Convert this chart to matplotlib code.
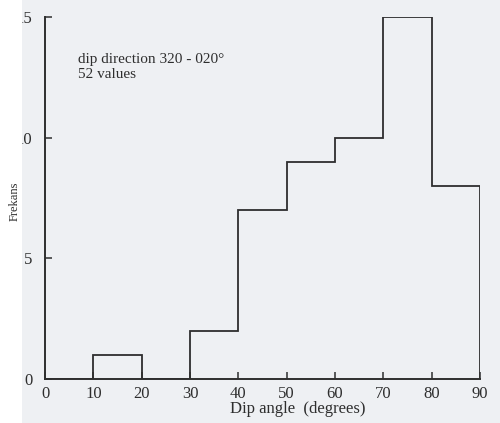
import matplotlib
matplotlib.use("Agg")
import matplotlib.pyplot as plt
from matplotlib.patches import Rectangle

# dip-angle histogram, 10 degree classes
bin_edges = [0, 10, 20, 30, 40, 50, 60, 70, 80, 90]
counts = [0, 1, 0, 2, 7, 9, 10, 15, 8]
x_ticks = [0, 10, 20, 30, 40, 50, 60, 70, 80, 90]
y_ticks = [0, 5, 10, 15]

INK = "#2e2e2e"
BG = "#eef0f3"

plt.rcParams["font.family"] = ["Liberation Serif", "DejaVu Serif"]

fig = plt.figure(figsize=(5.0, 4.23), dpi=100, facecolor=BG)
ax = fig.add_axes([0.09, 0.104, 0.87, 0.856])
ax.set_facecolor(BG)

ax.stairs(counts, bin_edges, color=INK, linewidth=1.3, baseline=0)

ax.set_xlim(bin_edges[0], bin_edges[-1])
ax.set_ylim(0, 15)
ax.set_xticks(x_ticks)
ax.set_yticks(y_ticks)
for side in ("top", "right"):
    ax.spines[side].set_visible(False)
for side in ("left", "bottom"):
    ax.spines[side].set_color(INK)
    ax.spines[side].set_linewidth(1.4)
ax.tick_params(axis="both", direction="in", length=5, width=1.1,
               color=INK, labelcolor=INK, labelsize=12)
ax.tick_params(axis="y", pad=9)
ax.tick_params(axis="x", pad=5)

ax.set_xlabel("Dip angle  (degrees)", fontsize=12, color=INK)
ax.xaxis.set_label_coords(0.58, -0.062)

ax.text(0.075, 0.9, "dip direction 320 - 020°\n52 values",
        transform=ax.transAxes, fontsize=11, color=INK,
        va="top", ha="left", linespacing=1.15)

# pale margin along the left edge of the page
fig.patches.append(Rectangle((0, 0), 22 / 500, 1, transform=fig.transFigure,
                             facecolor="white", edgecolor="none", zorder=5))
fig.text(0.03, 1 - 201 / 423, "Frekans", rotation=90, ha="center",
         va="center", fontsize=9, color=INK, zorder=6)

fig.savefig("out.png", dpi=100, facecolor=BG)
